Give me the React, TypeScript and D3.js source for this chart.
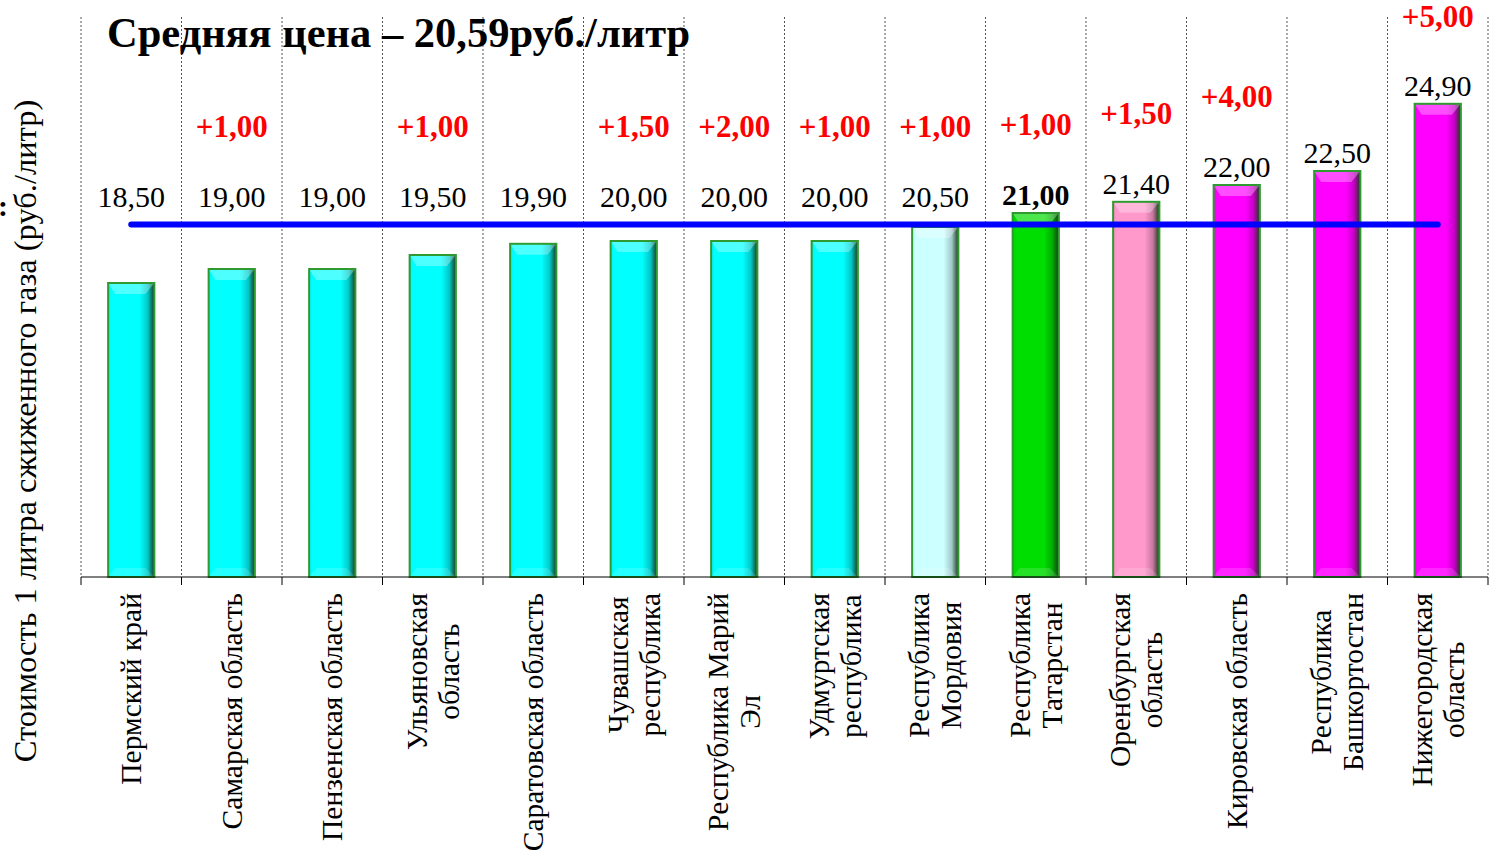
import { useEffect, useRef } from 'react';
import * as d3 from 'd3';

// Регионы (перенос строки как в подписи оси)
const regions = [
  'Пермский край',
  'Самарская область',
  'Пензенская область',
  'Ульяновская\nобласть',
  'Саратовская область',
  'Чувашская\nреспублика',
  'Республика Марий\nЭл',
  'Удмуртская\nреспублика',
  'Республика\nМордовия',
  'Республика\nТатарстан',
  'Оренбургская\nобласть',
  'Кировская область',
  'Республика\nБашкортостан',
  'Нижегородская\nобласть'
];

// Цена 1 литра сжиженного газа, руб.
const prices = [18.5, 19.0, 19.0, 19.5, 19.9, 20.0, 20.0, 20.0, 20.5, 21.0, 21.4, 22.0, 22.5, 24.9];

// Рост цены, руб. (null — без изменения)
const increases: (number | null)[] = [null, 1.0, null, 1.0, null, 1.5, 2.0, 1.0, 1.0, 1.0, 1.5, 4.0, null, 5.0];

const barColors = [
  '#00FFFF', '#00FFFF', '#00FFFF', '#00FFFF', '#00FFFF', '#00FFFF', '#00FFFF', '#00FFFF',
  '#CCFFFF', '#00DD00', '#FF99CC', '#FF00FF', '#FF00FF', '#FF00FF'
];

const boldRegion = 'Республика\nТатарстан';
const yDomain = [8, 28];

const SERIF = "'Times New Roman', 'Liberation Serif', serif";

export default function App() {
  const svgRef = useRef<SVGSVGElement>(null);

  useEffect(() => {
    if (!svgRef.current) return;
    const svg = d3.select(svgRef.current);
    svg.selectAll('*').remove();

    const left = 81;
    const right = 1488;
    const top = 17;
    const bottom = 577;

    const ru = d3.formatLocale({ decimal: ',', thousands: ' ', grouping: [3], currency: ['', ''] });
    const fmt = ru.format('.2f');
    const avg = d3.mean(prices) || 0;

    const x = d3.scaleBand<string>().domain(regions).range([left, right]).padding(0);
    const y = d3.scaleLinear().domain(yDomain).range([bottom, top]);
    const barW = x.bandwidth() * 0.46;

    // gradients per colour
    const defs = svg.append('defs');
    const uniq = Array.from(new Set(barColors));
    uniq.forEach((c, i) => {
      const g = defs.append('linearGradient')
        .attr('id', `bar-grad-${i}`)
        .attr('x1', '0%').attr('x2', '100%').attr('y1', '0%').attr('y2', '0%');
      const base = d3.color(c)!;
      g.append('stop').attr('offset', '0%').attr('stop-color', base.darker(0.15).formatHex());
      g.append('stop').attr('offset', '8%').attr('stop-color', c);
      g.append('stop').attr('offset', '68%').attr('stop-color', c);
      g.append('stop').attr('offset', '86%').attr('stop-color', base.darker(0.7).formatHex());
      g.append('stop').attr('offset', '100%').attr('stop-color', '#1c3a1c');
    });

    // vertical dashed grid + ticks at band boundaries
    const bounds = d3.range(regions.length + 1).map(i => left + i * x.step());
    svg.append('g').selectAll('line')
      .data(bounds)
      .join('line')
      .attr('x1', d => d).attr('x2', d => d)
      .attr('y1', top).attr('y2', bottom)
      .attr('stroke', '#555')
      .attr('stroke-width', 1)
      .attr('stroke-dasharray', '2,2');

    svg.append('g').selectAll('line')
      .data(bounds)
      .join('line')
      .attr('x1', d => d).attr('x2', d => d)
      .attr('y1', bottom).attr('y2', bottom + 8)
      .attr('stroke', '#000')
      .attr('stroke-width', 1);

    // bars
    const bars = svg.append('g');
    regions.forEach((r, i) => {
      const bx = (x(r) || 0) + (x.bandwidth() - barW) / 2;
      const by = y(prices[i]);
      const bh = bottom - by;
      const gi = uniq.indexOf(barColors[i]);
      bars.append('rect')
        .attr('x', bx).attr('y', by)
        .attr('width', barW).attr('height', bh)
        .attr('fill', `url(#bar-grad-${gi})`);
      // top bevel
      bars.append('polygon')
        .attr('points', [
          [bx, by], [bx + barW, by], [bx + barW - 9, by + 11], [bx + 7, by + 11]
        ].map(p => p.join(',')).join(' '))
        .attr('fill', '#fff')
        .attr('opacity', 0.3);
      // bottom bevel
      bars.append('polygon')
        .attr('points', [
          [bx, by + bh], [bx + barW, by + bh], [bx + barW - 9, by + bh - 9], [bx + 7, by + bh - 9]
        ].map(p => p.join(',')).join(' '))
        .attr('fill', '#fff')
        .attr('opacity', 0.15);
      bars.append('rect')
        .attr('x', bx).attr('y', by)
        .attr('width', barW).attr('height', bh)
        .attr('fill', 'none')
        .attr('stroke', '#2f9a2f')
        .attr('stroke-width', 2);
    });

    // x axis line
    svg.append('line')
      .attr('x1', left).attr('x2', right)
      .attr('y1', bottom).attr('y2', bottom)
      .attr('stroke', '#000')
      .attr('stroke-width', 1.2);

    // average line
    const c0 = (x(regions[0]) || 0) + x.bandwidth() / 2;
    const c1 = (x(regions[regions.length - 1]) || 0) + x.bandwidth() / 2;
    svg.append('line')
      .attr('x1', c0).attr('x2', c1)
      .attr('y1', y(avg)).attr('y2', y(avg))
      .attr('stroke', '#0000FF')
      .attr('stroke-width', 6)
      .attr('stroke-linecap', 'round');

    // value labels
    const labelY = (v: number) => Math.min(y(v) - 8, y(avg) - 18);
    svg.append('g').selectAll('text')
      .data(regions)
      .join('text')
      .attr('x', d => (x(d) || 0) + x.bandwidth() / 2)
      .attr('y', (_, i) => labelY(prices[i]))
      .attr('text-anchor', 'middle')
      .attr('font-family', SERIF)
      .attr('font-size', 30)
      .attr('font-weight', d => d === boldRegion ? 'bold' : 'normal')
      .attr('fill', '#000')
      .text((_, i) => fmt(prices[i]));

    // increase labels
    svg.append('g').selectAll('text')
      .data(regions.filter((_, i) => increases[i] != null))
      .join('text')
      .attr('x', d => (x(d) || 0) + x.bandwidth() / 2)
      .attr('y', d => Math.max(labelY(prices[regions.indexOf(d)]) - 70, 27))
      .attr('text-anchor', 'middle')
      .attr('font-family', SERIF)
      .attr('font-size', 31)
      .attr('font-weight', 'bold')
      .attr('fill', '#FF0000')
      .text(d => `+${fmt(increases[regions.indexOf(d)] as number)}`);

    // category labels (rotated, centered lines, top aligned)
    const catTop = 593;
    const lineH = 32;
    regions.forEach(r => {
      const lines = r.split('\n');
      const g = svg.append('g')
        .attr('transform', `translate(${(x(r) || 0) + x.bandwidth() / 2},${catTop}) rotate(-90)`);
      const texts = lines.map((ln, j) => g.append('text')
        .attr('y', (j - (lines.length - 1) / 2) * lineH + 10)
        .attr('text-anchor', 'middle')
        .attr('font-family', SERIF)
        .attr('font-size', 29.5)
        .attr('fill', '#000')
        .text(ln));
      const maxLen = d3.max(texts, t => (t.node() as SVGTextElement).getComputedTextLength()) || 0;
      texts.forEach(t => t.attr('x', -maxLen / 2));
    });

    // y axis title
    svg.append('text')
      .attr('transform', `translate(36,${431}) rotate(-90)`)
      .attr('text-anchor', 'middle')
      .attr('font-family', SERIF)
      .attr('font-size', 32.5)
      .attr('fill', '#000')
      .text('Стоимость 1  литра сжиженного газа  (руб./литр)');

    // colon left over at the very edge
    svg.append('text')
      .attr('x', -2)
      .attr('y', 216)
      .attr('font-family', SERIF)
      .attr('font-size', 30)
      .attr('font-weight', 'bold')
      .attr('fill', '#000')
      .text(':');

    // title
    svg.append('text')
      .attr('x', 107)
      .attr('y', 47)
      .attr('font-family', SERIF)
      .attr('font-size', 42.5)
      .attr('font-weight', 'bold')
      .attr('fill', '#000')
      .text(`Средняя цена – ${fmt(avg)}руб./литр`);
  }, []);

  return (
    <svg
      ref={svgRef}
      width={1493}
      height={852}
      style={{ position: 'absolute', left: 0, top: 0, background: '#fff', display: 'block' }}
    />
  );
}
